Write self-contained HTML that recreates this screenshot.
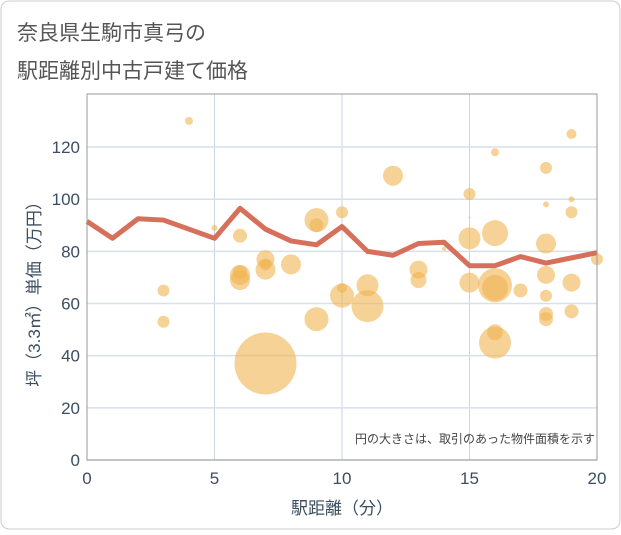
<!DOCTYPE html>
<html><head><meta charset="utf-8"><style>
body{margin:0;background:#fff;}
svg text{font-family:"Liberation Sans","Noto Sans CJK JP",sans-serif;}
</style></head><body>
<svg width="621" height="530" xmlns="http://www.w3.org/2000/svg">
<rect x="1" y="1" width="619" height="528" rx="8" fill="#fff" stroke="#ccc"/>
<text x="17" y="40" font-size="21" fill="#555">奈良県生駒市真弓の</text>
<text x="17" y="78" font-size="21" fill="#555">駅距離別中古戸建て価格</text>
<g id="grid"></g>
<g id="bubbles"></g>
<g id="line"></g>
<rect x="87" y="94" width="510" height="366" fill="none" stroke="#999"/>
<g id="ticks"></g>
<text x="595" y="443" font-size="12" fill="#444" text-anchor="end">円の大きさは、取引のあった物件面積を示す</text>
<text x="342" y="514" font-size="17" fill="#3c4e62" text-anchor="middle">駅距離（分）</text>
<text transform="translate(40,290) rotate(-90)" font-size="17" fill="#3c4e62" text-anchor="middle">坪（3.3㎡）単価（万円）</text>
</svg>
<script>
const xTicks=[0,5,10,15,20];
const yTicks=[0,20,40,60,80,100,120];
const lineX=[0,1,2,3,4,5,6,7,8,9,10,11,12,13,14,15,16,17,18,19,20];
const lineY=[91.5,85,92.5,92,88.5,85,96.5,88.5,84,82.5,89.5,80,78.5,83,83.5,74.5,74.5,78,75.5,77.5,79.5];
const bubX=[4,3,3,5,6,6,6,6,7,7,7,7,8,9,9,9,10,10,10,11,11,12,13,13,14,15,15,15,15,16,16,16,16,16,16,17,18,18,18,18,18,18,18,19,19,19,19,19,20];
const bubY=[130,65,53,89,86,71,69,72,37,77,73,75,75,92,90,54,95,66,63,67,59,109,73,69,81,102,85,68,93,118,87,67,66,49,45,65,112,98,83,71,63,56,54,125,100,95,68,57,77];
const bubR=[4,6,6,3,7,10,10,7,31,9,10,6,10,12,7,12,6,5,12,11,16,10,9,8,2,6,11,10,1,4,13,17,13,8,16,7,6,3,10,9,6,7,7,5,3,6,9,7,6];
const NS="http://www.w3.org/2000/svg";
const sx=v=>87+v*25.5, sy=v=>460-v*2.608;
function mk(t,a,p){const e=document.createElementNS(NS,t);for(const k in a)e.setAttribute(k,a[k]);document.getElementById(p).appendChild(e);return e;}
xTicks.forEach(t=>{
 const g=mk('line',{x1:sx(t),x2:sx(t),y1:94,y2:460,stroke:'#c8d6e2','stroke-width':1},'grid');
 
 
 const l=mk('text',{x:sx(t),y:484,'font-size':17,fill:'#3c4e62','text-anchor':'middle'},'ticks');l.textContent=t;
 
 
});
yTicks.forEach(t=>{
 const g=mk('line',{x1:87,x2:597,y1:sy(t),y2:sy(t),stroke:'#d6e1ea','stroke-width':1.5},'grid');
 
 
 const l=mk('text',{x:80,y:sy(t)+6,'font-size':17,fill:'#3c4e62','text-anchor':'end'},'ticks');l.textContent=t;
 
 
});
bubX.forEach((x,i)=>{
 const c=mk('circle',{cx:sx(x),cy:sy(bubY[i]),r:bubR[i],fill:'rgba(240,180,80,0.6)'},'bubbles');
 
 
});
const p=mk('polyline',{points:lineX.map((x,i)=>sx(x)+','+sy(lineY[i])).join(' '),fill:'none',stroke:'#d6705a','stroke-width':5,'stroke-linejoin':'round'},'line');


</script>
</body></html>
